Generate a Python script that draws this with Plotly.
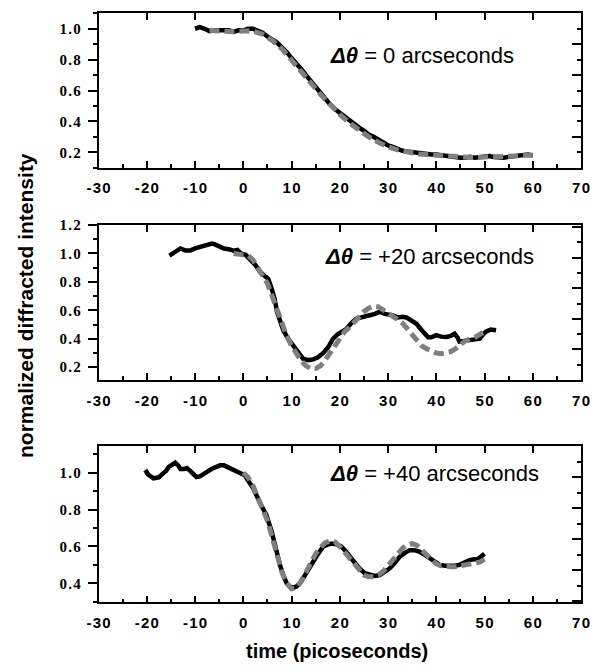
import plotly.graph_objects as go

# ---------------- data ----------------
# Panel 1: dtheta = 0 arcseconds
t1_exp = [-10, -9, -8, -7, -6, -5, -4, -3, -2, -1, 0, 1, 2, 3, 4, 5, 6, 7, 8, 9, 10,
          11, 12, 13, 14, 15, 16, 17, 18, 19, 20, 21, 22, 23, 24, 25, 26, 27, 28, 29, 30,
          31, 32, 33, 34, 35, 36, 37, 38, 39, 40, 41, 42, 43, 44, 45, 46, 47, 48, 49, 50,
          51, 52, 53, 54, 55, 56, 57, 58, 59, 60]
i1_exp = [1.00, 1.01, 1.00, 0.985, 0.99, 0.99, 0.985, 0.99, 0.98, 0.99, 0.99, 1.0, 1.0, 0.99,
          0.975, 0.95, 0.93, 0.91, 0.88, 0.85, 0.81, 0.78, 0.74, 0.70, 0.66, 0.62, 0.58, 0.545,
          0.51, 0.48, 0.455, 0.43, 0.405, 0.38, 0.36, 0.34, 0.315, 0.30, 0.28, 0.26, 0.245,
          0.235, 0.22, 0.21, 0.205, 0.20, 0.195, 0.19, 0.19, 0.185, 0.185, 0.18, 0.18, 0.175,
          0.17, 0.165, 0.165, 0.17, 0.165, 0.17, 0.17, 0.175, 0.17, 0.165, 0.165, 0.17, 0.175,
          0.18, 0.18, 0.185, 0.18]
t1_th = [-7, -5, -2, 0, 2, 4, 6, 8, 10, 12, 14, 16, 18, 20, 22, 24, 26, 28, 30, 32, 34, 36,
         38, 40, 42, 44, 46, 48, 50, 52, 54, 56, 58, 60]
i1_th = [0.99, 0.985, 0.98, 0.985, 0.985, 0.965, 0.925, 0.87, 0.80, 0.73, 0.65, 0.575, 0.505,
         0.445, 0.39, 0.345, 0.30, 0.265, 0.235, 0.215, 0.20, 0.19, 0.185, 0.18, 0.175, 0.17,
         0.165, 0.165, 0.17, 0.17, 0.17, 0.175, 0.18, 0.18]

# Panel 2: dtheta = +20 arcseconds
t2_exp = [-15.3, -14.5, -13.5, -13, -12, -11, -10, -9, -8, -7, -6.5, -6, -5, -4, -3, -2, -1.2,
          -0.5, 0.5, 1.5, 2.5, 3.5, 4.5, 5.2, 6, 6.5, 7, 7.5, 8.3, 9.3, 10.3, 11.3, 12.4, 13.5,
          14.5, 15.5, 16.6, 17.6, 18.6, 19.5, 20.5, 21.4, 22.4, 23.4, 24.5, 25.5, 26.2, 27.3,
          28.3, 29.3, 30.3, 31, 32, 33, 33.8, 34.8, 35.9, 37, 38.3, 39, 40, 41, 42.1, 43, 43.8,
          44.4, 44.8, 45.8, 46.9, 48, 49, 49.7, 50.3, 51.3, 52.4]
i2_exp = [0.985, 1.0, 1.02, 1.035, 1.02, 1.02, 1.035, 1.045, 1.05, 1.06, 1.07, 1.065, 1.05,
          1.035, 1.03, 1.02, 1.025, 1.0, 0.99, 0.96, 0.92, 0.87, 0.84, 0.82, 0.74, 0.68, 0.59,
          0.54, 0.46, 0.40, 0.355, 0.30, 0.26, 0.25, 0.255, 0.27, 0.30, 0.34, 0.40, 0.43, 0.45,
          0.47, 0.51, 0.54, 0.55, 0.555, 0.565, 0.575, 0.59, 0.575, 0.57, 0.565, 0.55, 0.555,
          0.55, 0.53, 0.505, 0.46, 0.41, 0.41, 0.425, 0.415, 0.413, 0.42, 0.436, 0.41, 0.38,
          0.385, 0.39, 0.39, 0.40, 0.43, 0.45, 0.465, 0.46]
t2_th = [-2, 0, 1, 2, 3, 4, 5, 6, 7, 8, 9, 10, 11, 12, 13, 14, 15, 16, 17, 18, 19, 20, 21, 22,
         23, 24, 25, 26, 27, 28, 29, 30, 31, 32, 33, 34, 35, 36, 37, 38, 39, 40, 41, 42, 43,
         44, 45, 46, 47, 48, 49, 50]
i2_th = [1.0, 0.995, 0.985, 0.955, 0.90, 0.85, 0.79, 0.70, 0.60, 0.50, 0.42, 0.35, 0.29, 0.245,
         0.21, 0.19, 0.19, 0.21, 0.25, 0.30, 0.36, 0.41, 0.45, 0.48, 0.52, 0.56, 0.59, 0.615,
         0.63, 0.625, 0.605, 0.58, 0.56, 0.535, 0.51, 0.47, 0.42, 0.38, 0.35, 0.33, 0.31, 0.30,
         0.295, 0.30, 0.31, 0.33, 0.36, 0.385, 0.40, 0.41, 0.43, 0.45]

# Panel 3: dtheta = +40 arcseconds
t3_exp = [-20.3, -19.7, -18.6, -17.5, -16.9, -16, -15.5, -14.8, -14.1, -13.5, -13, -12.3,
          -11.7, -11, -10.3, -9.7, -9, -8.3, -7.5, -6.6, -5.7, -4.8, -4, -3.1, -2.2, -1.4,
          -0.5, 0.3, 1.2, 2.1, 3.4, 4.8, 5.9, 6.9, 7.6, 8.3, 9, 9.7, 10.3, 11, 11.7, 12.4,
          13.5, 14.5, 15.5, 16.6, 17.5, 18.3, 19.3, 20.3, 21.2, 22.1, 23.1, 24.1, 25.2, 26.2,
          27.3, 28.3, 29.3, 30.3, 31.4, 32.4, 33.5, 34.5, 35.5, 36.6, 37.6, 38.6, 39.7, 40.7,
          41.8, 42.8, 43.8, 44.8, 45.9, 46.9, 47.8, 48.6, 49.3, 50]
i3_exp = [1.015, 0.99, 0.97, 0.975, 0.99, 1.01, 1.03, 1.045, 1.055, 1.04, 1.02, 1.02, 1.025,
          1.01, 0.99, 0.977, 0.98, 0.995, 1.005, 1.02, 1.03, 1.04, 1.04, 1.03, 1.02, 1.007,
          0.995, 0.986, 0.95, 0.914, 0.84, 0.77, 0.68, 0.57, 0.50, 0.445, 0.40, 0.382, 0.375,
          0.382, 0.40, 0.427, 0.47, 0.517, 0.56, 0.60, 0.61, 0.616, 0.612, 0.60, 0.575, 0.544,
          0.51, 0.48, 0.455, 0.445, 0.44, 0.445, 0.46, 0.48, 0.51, 0.544, 0.565, 0.58, 0.58,
          0.571, 0.555, 0.535, 0.515, 0.50, 0.495, 0.494, 0.495, 0.50, 0.515, 0.526, 0.53,
          0.53, 0.545, 0.56]
t3_th = [0, 1, 2, 3, 4, 5, 6, 7, 8, 9, 10, 11, 12, 13, 14, 15, 16, 17, 18, 19, 20, 21, 22, 23,
         24, 25, 26, 27, 28, 29, 30, 31, 32, 33, 34, 35, 36, 37, 38, 39, 40, 41, 42, 43, 44,
         45, 46, 47, 48, 49, 50]
i3_th = [1.0, 0.975, 0.93, 0.865, 0.80, 0.74, 0.65, 0.55, 0.46, 0.40, 0.37, 0.375, 0.41, 0.46,
         0.515, 0.56, 0.595, 0.62, 0.63, 0.625, 0.60, 0.57, 0.535, 0.50, 0.47, 0.445, 0.435,
         0.435, 0.445, 0.465, 0.495, 0.53, 0.565, 0.59, 0.61, 0.615, 0.605, 0.58, 0.55, 0.525,
         0.505, 0.495, 0.49, 0.49, 0.49, 0.495, 0.50, 0.505, 0.51, 0.515, 0.53]

panel_labels = ["<b><i>Δθ</i></b> = 0 arcseconds",
                "<b><i>Δθ</i></b> = +20 arcseconds",
                "<b><i>Δθ</i></b> = +40 arcseconds"]

x_tickvals = [-30, -20, -10, 0, 10, 20, 30, 40, 50, 60, 70]
x_ticktext = ["-30", "-20", "-10", "0", "10", "20", "30", "40", "50", "60", "70"]
y1_tickvals = [0.2, 0.4, 0.6, 0.8, 1.0]
y1_ticktext = ["0.2", "0.4", "0.6", "0.8", "1.0"]
y2_tickvals = [0.2, 0.4, 0.6, 0.8, 1.0, 1.2]
y2_ticktext = ["0.2", "0.4", "0.6", "0.8", "1.0", "1.2"]
y3_tickvals = [0.4, 0.6, 0.8, 1.0]
y3_ticktext = ["0.4", "0.6", "0.8", "1.0"]

x_title = "time (picoseconds)"
y_title = "normalized diffracted intensity"

# ---------------- layout helpers ----------------
# The page body has an 8px margin, so the figure is 16px smaller than the window
# and page-pixel positions are converted to figure fractions with that offset.
OFF = 8
W, H = 598 - 2 * OFF, 671 - 2 * OFF
HAIR = "\u200a"


def fx(px):
    return (px - OFF) / W


def fy(py):
    return 1 - (py - OFF) / H


def spaced(s, sep):
    return sep.join(list(s))


XDOM = [fx(98.5), fx(581)]
YDOMS = [[fy(167.7), fy(13.3)],
         [fy(380), fy(225)],
         [fy(602.3), fy(446)]]
YRANGES = [[0.1, 1.1], [0.11, 1.2], [0.297, 1.145]]
RIGHT_TICKS = [(0.1, 0.2), (0.325, 0.215), (0.472, 0.168)]
YTICKS = [(y1_tickvals, y1_ticktext), (y2_tickvals, y2_ticktext), (y3_tickvals, y3_ticktext)]
ANN_POS = [(328, 56), (323, 256), (328, 473)]

series = [(t1_exp, i1_exp, t1_th, i1_th),
          (t2_exp, i2_exp, t2_th, i2_th),
          (t3_exp, i3_exp, t3_th, i3_th)]

fig = go.Figure()

axis_font_x = dict(family="Liberation Sans", size=15, color="black", weight="bold")
axis_font_y = dict(family="Liberation Serif", size=15, color="black", weight="bold")

layout = dict(width=W, height=H, margin=dict(l=0, r=0, t=0, b=0, autoexpand=False),
              paper_bgcolor="white", plot_bgcolor="white", showlegend=False)

annotations = []
for k in range(3):
    n = k + 1
    xa = "x" if n == 1 else f"x{n}"
    ya = "y" if n == 1 else f"y{n}"
    texp, iexp, tth, ith = series[k]
    fig.add_trace(go.Scatter(x=texp, y=iexp, mode="lines", xaxis=xa, yaxis=ya,
                             line=dict(color="black", width=4.5), hoverinfo="skip"))
    fig.add_trace(go.Scatter(x=tth, y=ith, mode="lines", xaxis=xa, yaxis=ya,
                             line=dict(color="#7f7f7f", width=5, dash="10px,5px"),
                             hoverinfo="skip"))
    # helper (empty) traces for top / right tick axes
    xt = f"x{n + 3}"
    yr = f"y{n + 3}"
    fig.add_trace(go.Scatter(x=[], y=[], xaxis=xt, yaxis=ya, hoverinfo="skip"))
    fig.add_trace(go.Scatter(x=[], y=[], xaxis=xa, yaxis=yr, hoverinfo="skip"))

    xname = "xaxis" if n == 1 else f"xaxis{n}"
    yname = "yaxis" if n == 1 else f"yaxis{n}"
    layout[xname] = dict(domain=XDOM, anchor=ya, range=[-30, 70], automargin=False,
                         tickmode="array", tickvals=x_tickvals,
                         ticktext=[spaced(s, HAIR) for s in x_ticktext],
                         ticks="inside", ticklen=7, tickwidth=1.5, tickcolor="black",
                         minor=dict(dtick=5, tick0=0, ticks="inside", ticklen=4,
                                    tickwidth=1.5, tickcolor="black"),
                         showline=True, linecolor="black", linewidth=1.5, mirror=True,
                         showgrid=False, zeroline=False, tickfont=axis_font_x,
                         ticklabelstandoff=6)
    yv, yt = YTICKS[k]
    layout[yname] = dict(domain=YDOMS[k], anchor=xa, range=YRANGES[k], automargin=False,
                         tickmode="array", tickvals=yv,
                         ticktext=[spaced(s, HAIR) for s in yt],
                         ticks="outside", ticklen=9, tickwidth=1.5, tickcolor="black",
                         minor=dict(dtick=0.1, tick0=0, ticks="outside", ticklen=4,
                                    tickwidth=1.5, tickcolor="black"),
                         showline=True, linecolor="black", linewidth=1.5, mirror=True,
                         showgrid=False, zeroline=False, tickfont=axis_font_y,
                         ticklabelstandoff=4)
    layout[f"xaxis{n + 3}"] = dict(overlaying=xa, anchor=ya, side="top", range=[-30, 70],
                                   automargin=False,
                                   dtick=10, tick0=0, ticks="inside", ticklen=7,
                                   tickwidth=1.5, tickcolor="black", showticklabels=False,
                                   showline=False, showgrid=False, zeroline=False)
    r0, rd = RIGHT_TICKS[k]
    layout[f"yaxis{n + 3}"] = dict(overlaying=ya, anchor=xa, side="right", range=YRANGES[k],
                                   automargin=False,
                                   tick0=r0, dtick=rd, ticks="inside", ticklen=9,
                                   tickwidth=1.5, tickcolor="black", showticklabels=False,
                                   minor=dict(tick0=r0 + rd / 2, dtick=rd, ticks="inside",
                                              ticklen=4, tickwidth=1.5, tickcolor="black"),
                                   showline=False, showgrid=False, zeroline=False)
    ax, ay = ANN_POS[k]
    annotations.append(dict(text=panel_labels[k], xref="paper", yref="paper",
                            x=fx(ax), y=fy(ay), xanchor="left", yanchor="middle",
                            showarrow=False,
                            font=dict(family="Liberation Sans", size=22, color="black")))

annotations.append(dict(text=f"<b>{x_title}</b>", xref="paper", yref="paper",
                        x=fx(337), y=fy(651), xanchor="center", yanchor="middle",
                        showarrow=False,
                        font=dict(family="Liberation Sans", size=20, color="black")))
annotations.append(dict(text=f"<b>{y_title}</b>", xref="paper", yref="paper",
                        x=fx(25), y=fy(306), xanchor="center", yanchor="middle",
                        textangle=-90, showarrow=False,
                        font=dict(family="Liberation Sans", size=21, color="black")))
layout["annotations"] = annotations

fig.update_layout(**layout)
fig.write_html("out.html")
